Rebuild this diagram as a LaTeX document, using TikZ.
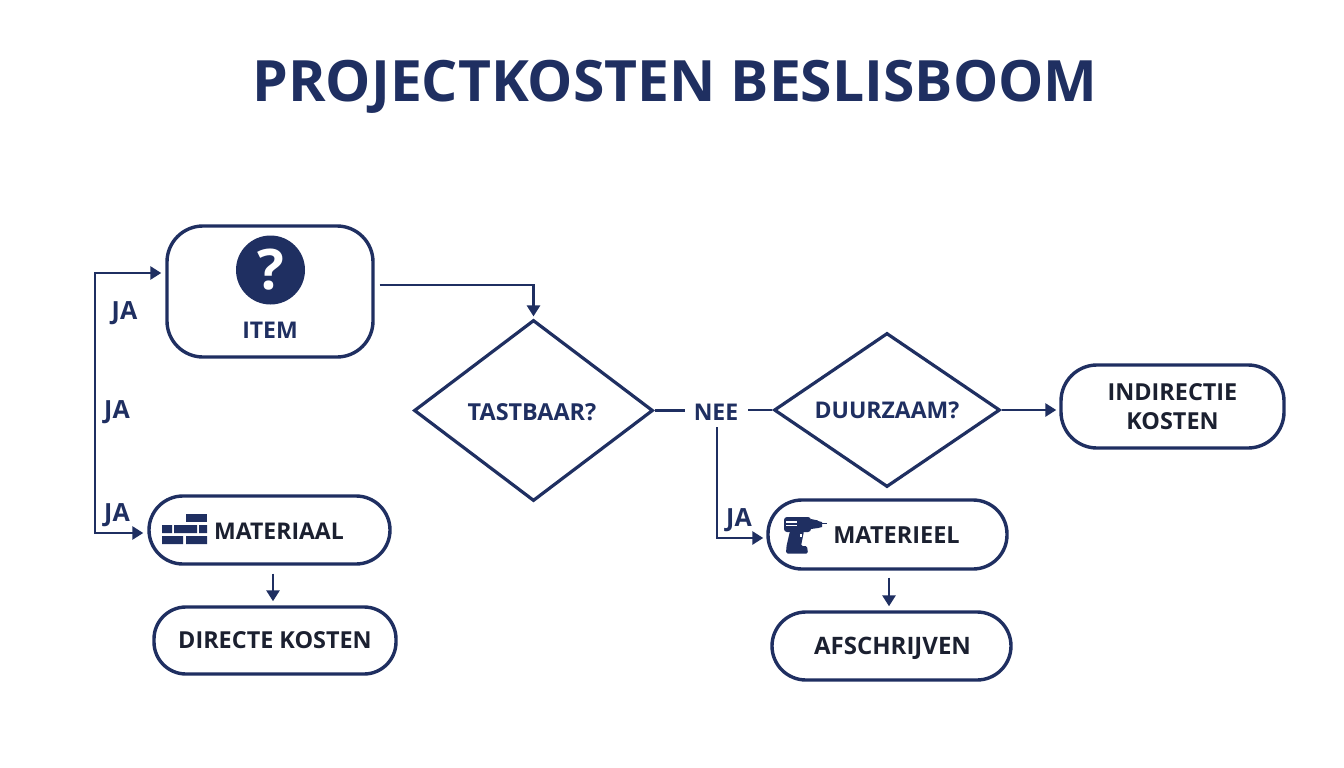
\documentclass[tikz,border=0pt]{standalone}
\usepackage{fontspec}
\setmainfont{Open Sans}[BoldFont={Open Sans Bold}]
\usetikzlibrary{shapes.geometric,arrows.meta}
\definecolor{navy}{HTML}{1F2F61}
\definecolor{ink}{HTML}{1B2030}
\tikzset{
  box/.style={draw=navy,line width=3.4pt,rounded corners=#1,fill=white,inner sep=0pt,align=center,font=\fontsize{23.4}{29}\selectfont\bfseries,text=ink},
  box/.default=34pt,
  dia/.style={draw=navy,line width=3.2pt,diamond,aspect=1.5,inner sep=0pt,font=\fontsize{23}{27}\selectfont\bfseries,text=navy},
  lab/.style={font=\fontsize{23}{27}\selectfont\bfseries,text=navy,inner sep=0pt},
  jalab/.style={font=\fontsize{25}{29}\selectfont\bfseries,text=navy,inner sep=0pt},
  link/.style={draw=navy,line width=2.9pt},
  arr/.style={link,-{Triangle[length=11pt,width=13pt]}},
  icon/.style={fill=navy,draw=none}
}
\begin{document}
\begin{tikzpicture}[x=1pt,y=-1pt]
\useasboundingbox (0,0) rectangle (1344,768);
\fill[white] (0,0) rectangle (1344,768);
\node[inner sep=0pt,text=navy,font=\fontsize{57}{66}\selectfont\bfseries] (title) at (675,87) {PROJECTKOSTEN BESLISBOOM};
% boxes
\node[box=36pt,minimum width=206pt,minimum height=131pt] (item) at (270,291.5) {};
\node[box,minimum width=241pt,minimum height=68pt] (materiaal) at (269.5,530) {};
\node[box=32pt,minimum width=242pt,minimum height=67pt] (directe) at (275,640.5) {DIRECTE KOSTEN};
\node[box,minimum width=239pt,minimum height=69pt] (materieel) at (887.5,534.5) {};
\node[box,minimum width=239pt,minimum height=68pt] (afschrijven) at (891.5,646) {};
\node[inner sep=0pt,text=ink,font=\fontsize{24}{29}\selectfont\bfseries] (afstxt) at (892.5,648) {AFSCHRIJVEN};
\node[box=36pt,minimum width=223pt,minimum height=83pt] (indirect) at (1172.5,406.5) {INDIRECTIE\\KOSTEN};
% diamonds
\node[dia,minimum width=239pt,minimum height=181pt] (tast) at (533.5,410.5) {};
\node[inner sep=0pt,text=navy,font=\fontsize{23.4}{27}\selectfont\bfseries] (tasttxt) at (532,412) {TASTBAAR?};
\node[dia,minimum width=226pt,minimum height=154pt] (duur) at (887,410) {DUURZAAM?};
% labels
\node[lab] (nee) at (716,412) {NEE};
\node[jalab] (ja1) at (124.5,313) {JA};
\node[jalab] (ja2) at (117,412) {JA};
\node[jalab] (ja3) at (117,515) {JA};
\node[jalab] (ja4) at (739,520) {JA};
% item content
\node[circle,fill=navy,minimum size=69pt,inner sep=0pt,text=white,font=\fontsize{56}{60}\selectfont\bfseries] (q) at (270.5,270) {?};
\node[lab] (itemtxt) at (270,330) {ITEM};
\node[inner sep=0pt,text=ink,font=\fontsize{23}{27}\selectfont\bfseries] (mattxt) at (279,531) {MATERIAAL};
\node[inner sep=0pt,text=ink,font=\fontsize{23.5}{27}\selectfont\bfseries] (mettxt) at (896.5,535) {MATERIEEL};
% bricks
\fill[icon] (186,514) rectangle (207,522);
\fill[icon] (162,525) rectangle (172,533) (174,525) rectangle (197,533) (199,525) rectangle (207,533);
\fill[icon] (162,536) rectangle (183,544) (186,536) rectangle (207,544);
% drill
\fill[icon,rounded corners=3pt] (784,517) rectangle (811,532);
\fill[icon] (811,519) -- (818,520.5) -- (818,528) -- (811,529) -- cycle;
\fill[icon] (818,521) -- (822,522) -- (822,527) -- (818,528) -- cycle;
\fill[icon] (822,522.8) rectangle (827,524.2);
\fill[icon,rounded corners=1.5pt] (790,531) -- (804,531) -- (801,546) -- (807,546) -- (808,553.5) -- (786,553.5) -- (786.5,546) -- cycle;
\draw[white,line width=1.3pt] (786,522) -- (797,522) (786,525.5) -- (797,525.5);
\fill[white] (800,533.5) rectangle (802,537);
% connectors
\coordinate (trunk) at (95,411);
\draw[arr] ([xshift=5pt,yshift=6.5pt]item.east) -| ([yshift=2pt]tast.north);
\draw[arr] (trunk) |- ([xshift=-4pt,yshift=18.5pt]item.west);
\draw[arr] (trunk) |- ([xshift=-4pt,yshift=-3pt]materiaal.west);
\draw[link] (tast.east) -- (685,410.5);
\draw[link] (748,410) -- (duur.west);
\draw[arr] ([xshift=1pt,yshift=-7pt]nee.south) |- ([xshift=-3pt,yshift=-3.5pt]materieel.west);
\draw[arr] (duur.east) -- ([xshift=-3pt]indirect.west |- duur.east);
\draw[arr] ([xshift=3.5pt,yshift=-8pt]materiaal.south) -- ([xshift=-2pt,yshift=4pt]directe.north);
\draw[arr] ([xshift=1.5pt,yshift=-7pt]materieel.south) -- ([xshift=-2.5pt,yshift=4pt]afschrijven.north);
\end{tikzpicture}
\end{document}
